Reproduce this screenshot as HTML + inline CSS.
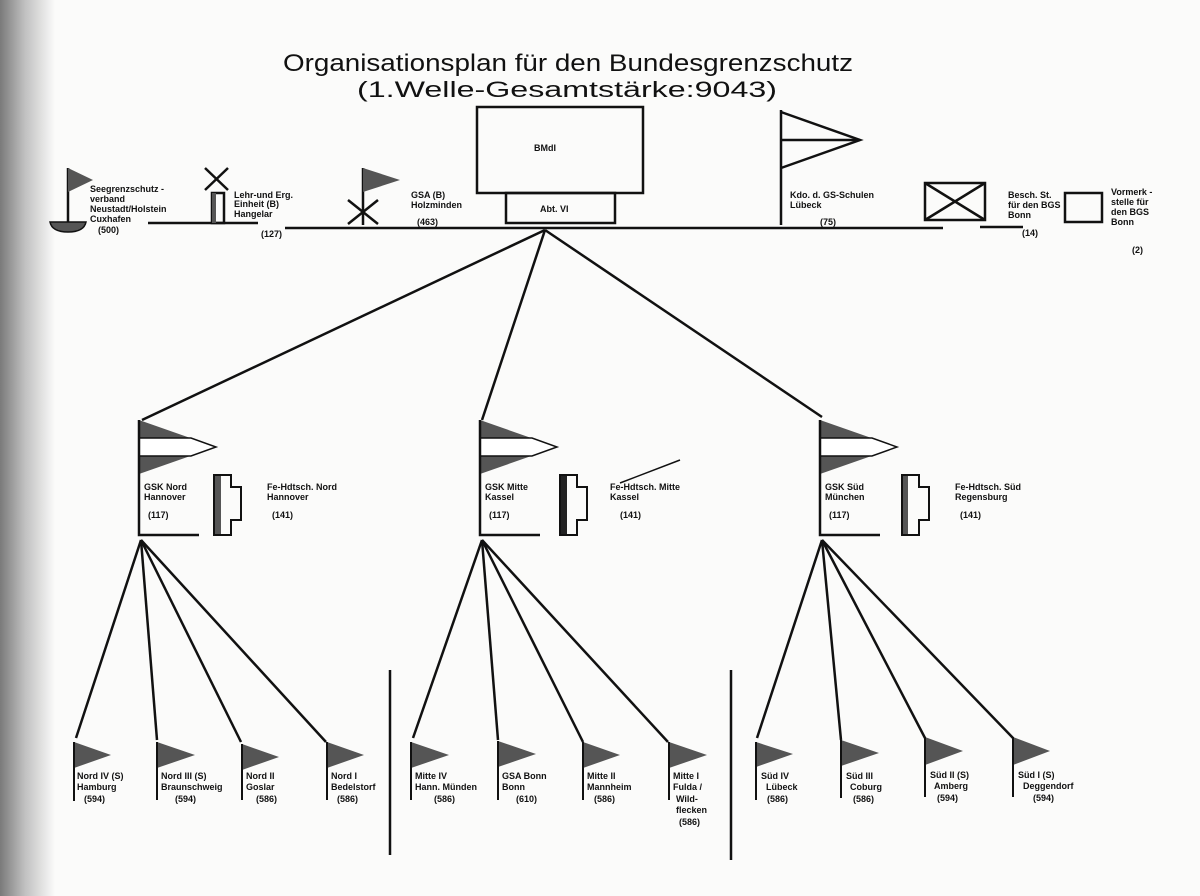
<!DOCTYPE html>
<html><head><meta charset="utf-8"><style>
html,body{margin:0;padding:0;background:#fbfbfa;}
svg{display:block;}
text{font-family:"Liberation Sans Narrow","Liberation Sans",sans-serif;font-weight:bold;fill:#111;}
.s{font-size:9px;}
</style></head><body>
<svg width="1200" height="896" viewBox="0 0 1200 896" xmlns="http://www.w3.org/2000/svg">
<defs>
<linearGradient id="g" x1="0" x2="1" y1="0" y2="0">
<stop offset="0" stop-color="#7a7a7a"/><stop offset="0.45" stop-color="#c0c0c0"/><stop offset="1" stop-color="#fbfbfa"/>
</linearGradient>
</defs>
<rect x="0" y="0" width="55" height="896" fill="url(#g)"/>

<text x="283" y="71" textLength="570" lengthAdjust="spacingAndGlyphs" style="font-family:'Liberation Sans',sans-serif;font-weight:normal;font-size:24px">Organisationsplan für den Bundesgrenzschutz</text>
<text x="357" y="97" textLength="420" lengthAdjust="spacingAndGlyphs" style="font-family:'Liberation Sans',sans-serif;font-weight:normal;font-size:22px">(1.Welle-Gesamtstärke:9043)</text>

<g stroke="#111" stroke-width="2.5" fill="none">
<rect x="477" y="107" width="166" height="86"/>
<rect x="506" y="193" width="109" height="30"/>
<line x1="285" y1="228" x2="943" y2="228"/>
<line x1="148" y1="223" x2="258" y2="223"/>
<line x1="980" y1="227" x2="1023" y2="227"/>
<line x1="545" y1="230" x2="142" y2="420"/>
<line x1="545" y1="230" x2="482" y2="420"/>
<line x1="545" y1="230" x2="822" y2="417"/>
<line x1="781" y1="110" x2="781" y2="225"/>
<polyline points="781,112 860,140 781,168"/>
<line x1="781" y1="140" x2="860" y2="140"/>
<rect x="925" y="183" width="60" height="37"/>
<line x1="925" y1="183" x2="985" y2="220"/><line x1="985" y1="183" x2="925" y2="220"/>
<rect x="1065" y="193" width="37" height="29"/>
<line x1="68" y1="168" x2="68" y2="222"/>
<rect x="212" y="193" width="12" height="30"/>
<line x1="205" y1="168" x2="228" y2="190"/><line x1="228" y1="168" x2="205" y2="190"/>
<line x1="363" y1="168" x2="363" y2="225"/>
<line x1="348" y1="200" x2="378" y2="224"/><line x1="348" y1="224" x2="378" y2="200"/>
<line x1="390" y1="670" x2="390" y2="855"/>
<line x1="731" y1="670" x2="731" y2="860"/>
</g>
<rect x="212" y="193" width="4" height="30" fill="#555"/>
<polygon points="68,168 93,180 68,192" fill="#555"/>
<path d="M50,222 L86,222 Q84,232 68,232 Q52,232 50,222 Z" fill="#555" stroke="#111" stroke-width="1.5"/>
<polygon points="363,168 400,180 363,192" fill="#555"/>
<text class="s" x="90" y="192">Seegrenzschutz -</text>
<text class="s" x="90" y="202">verband</text>
<text class="s" x="90" y="212">Neustadt/Holstein</text>
<text class="s" x="90" y="222">Cuxhafen</text>
<text class="s" x="98" y="233">(500)</text>
<text class="s" x="234" y="198">Lehr-und  Erg.</text>
<text class="s" x="234" y="207">Einheit  (B)</text>
<text class="s" x="234" y="217">Hangelar</text>
<text class="s" x="261" y="237">(127)</text>
<text class="s" x="411" y="198">GSA (B)</text>
<text class="s" x="411" y="208">Holzminden</text>
<text class="s" x="417" y="225">(463)</text>
<text class="s" x="534" y="151">BMdI</text>
<text class="s" x="540" y="212">Abt. VI</text>
<text class="s" x="790" y="198">Kdo. d. GS-Schulen</text>
<text class="s" x="790" y="208">Lübeck</text>
<text class="s" x="820" y="225">(75)</text>
<text class="s" x="1008" y="198">Besch. St.</text>
<text class="s" x="1008" y="208">für den  BGS</text>
<text class="s" x="1008" y="218">Bonn</text>
<text class="s" x="1022" y="236">(14)</text>
<text class="s" x="1111" y="195">Vormerk -</text>
<text class="s" x="1111" y="205">stelle  für</text>
<text class="s" x="1111" y="215">den  BGS</text>
<text class="s" x="1111" y="225">Bonn</text>
<text class="s" x="1132" y="253">(2)</text>

<g transform="translate(139,0)">
<polygon points="0,420 77,447 0,474" fill="#555"/>
<polygon points="0,438 52,438 77,447 52,456 0,456" fill="#fff"/>
<polyline points="0,438 52,438 77,447 52,456 0,456" fill="none" stroke="#111" stroke-width="1.5"/>
<polyline points="0,420 0,535 60,535" fill="none" stroke="#111" stroke-width="2.5"/>
<rect x="75" y="475" width="7" height="60" fill="#555"/>
<path d="M75,475 H92 V487 H102 V520 H92 V535 H75 Z" fill="none" stroke="#111" stroke-width="2"/>
<text class="s" x="5" y="490">GSK Nord</text><text class="s" x="5" y="500">Hannover</text><text class="s" x="9" y="518">(117)</text>
<text class="s" x="128" y="490">Fe-Hdtsch. Nord</text><text class="s" x="128" y="500">Hannover</text><text class="s" x="133" y="518">(141)</text>
</g>
<g transform="translate(480,0)">
<polygon points="0,420 77,447 0,474" fill="#555"/>
<polygon points="0,438 52,438 77,447 52,456 0,456" fill="#fff"/>
<polyline points="0,438 52,438 77,447 52,456 0,456" fill="none" stroke="#111" stroke-width="1.5"/>
<polyline points="0,420 0,535 60,535" fill="none" stroke="#111" stroke-width="2.5"/>
<rect x="80" y="475" width="7" height="60" fill="#222"/>
<path d="M80,475 H97 V487 H107 V520 H97 V535 H80 Z" fill="none" stroke="#111" stroke-width="2"/>
<line x1="140" y1="483" x2="200" y2="460" stroke="#111" stroke-width="1.5"/>
<text class="s" x="5" y="490">GSK Mitte</text><text class="s" x="5" y="500">Kassel</text><text class="s" x="9" y="518">(117)</text>
<text class="s" x="130" y="490">Fe-Hdtsch. Mitte</text><text class="s" x="130" y="500">Kassel</text><text class="s" x="140" y="518">(141)</text>
</g>
<g transform="translate(820,0)">
<polygon points="0,420 77,447 0,474" fill="#555"/>
<polygon points="0,438 52,438 77,447 52,456 0,456" fill="#fff"/>
<polyline points="0,438 52,438 77,447 52,456 0,456" fill="none" stroke="#111" stroke-width="1.5"/>
<polyline points="0,420 0,535 60,535" fill="none" stroke="#111" stroke-width="2.5"/>
<rect x="82" y="475" width="6" height="60" fill="#555"/>
<path d="M82,475 H99 V487 H109 V520 H99 V535 H82 Z" fill="none" stroke="#111" stroke-width="2"/>
<text class="s" x="5" y="490">GSK Süd</text><text class="s" x="5" y="500">München</text><text class="s" x="9" y="518">(117)</text>
<text class="s" x="135" y="490">Fe-Hdtsch. Süd</text><text class="s" x="135" y="500">Regensburg</text><text class="s" x="140" y="518">(141)</text>
</g>

<g stroke="#111" stroke-width="2.5">
<line x1="141" y1="540" x2="76" y2="738"/><line x1="141" y1="540" x2="157" y2="740"/><line x1="141" y1="540" x2="241" y2="742"/><line x1="141" y1="540" x2="326" y2="742"/>
<line x1="482" y1="540" x2="413" y2="738"/><line x1="482" y1="540" x2="498" y2="740"/><line x1="482" y1="540" x2="583" y2="742"/><line x1="482" y1="540" x2="668" y2="742"/>
<line x1="822" y1="540" x2="757" y2="738"/><line x1="822" y1="540" x2="841" y2="740"/><line x1="822" y1="540" x2="925" y2="738"/><line x1="822" y1="540" x2="1013" y2="738"/>
</g>

<g fill="#555" stroke="#111" stroke-width="2">
<polygon points="74,742 111,755 74,768" stroke="none"/><line x1="74" y1="742" x2="74" y2="801"/>
<polygon points="157,742 195,755 157,768" stroke="none"/><line x1="157" y1="742" x2="157" y2="800"/>
<polygon points="242,744 279,757 242,770" stroke="none"/><line x1="242" y1="744" x2="242" y2="800"/>
<polygon points="327,742 364,755 327,768" stroke="none"/><line x1="327" y1="742" x2="327" y2="800"/>
<polygon points="411,742 449,755 411,768" stroke="none"/><line x1="411" y1="742" x2="411" y2="800"/>
<polygon points="498,741 536,754 498,767" stroke="none"/><line x1="498" y1="741" x2="498" y2="800"/>
<polygon points="583,742 620,755 583,768" stroke="none"/><line x1="583" y1="742" x2="583" y2="800"/>
<polygon points="669,742 707,755 669,768" stroke="none"/><line x1="669" y1="742" x2="669" y2="800"/>
<polygon points="756,742 793,754 756,767" stroke="none"/><line x1="756" y1="742" x2="756" y2="800"/>
<polygon points="841,740 879,753 841,766" stroke="none"/><line x1="841" y1="740" x2="841" y2="798"/>
<polygon points="925,737 963,751 925,765" stroke="none"/><line x1="925" y1="737" x2="925" y2="797"/>
<polygon points="1013,737 1050,751 1013,765" stroke="none"/><line x1="1013" y1="737" x2="1013" y2="797"/>
</g>
<text class="s" x="77" y="779">Nord IV (S)</text><text class="s" x="77" y="790">Hamburg</text><text class="s" x="84" y="802">(594)</text>
<text class="s" x="161" y="779">Nord III (S)</text><text class="s" x="161" y="790">Braunschweig</text><text class="s" x="175" y="802">(594)</text>
<text class="s" x="246" y="779">Nord II</text><text class="s" x="246" y="790">Goslar</text><text class="s" x="256" y="802">(586)</text>
<text class="s" x="331" y="779">Nord I</text><text class="s" x="331" y="790">Bedelstorf</text><text class="s" x="337" y="802">(586)</text>
<text class="s" x="415" y="779">Mitte IV</text><text class="s" x="415" y="790">Hann. Münden</text><text class="s" x="434" y="802">(586)</text>
<text class="s" x="502" y="779">GSA  Bonn</text><text class="s" x="502" y="790">Bonn</text><text class="s" x="516" y="802">(610)</text>
<text class="s" x="587" y="779">Mitte II</text><text class="s" x="587" y="790">Mannheim</text><text class="s" x="594" y="802">(586)</text>
<text class="s" x="673" y="779">Mitte I</text><text class="s" x="673" y="790">Fulda /</text><text class="s" x="676" y="802">Wild-</text><text class="s" x="676" y="813">flecken</text><text class="s" x="679" y="825">(586)</text>
<text class="s" x="761" y="779">Süd IV</text><text class="s" x="766" y="790">Lübeck</text><text class="s" x="767" y="802">(586)</text>
<text class="s" x="846" y="779">Süd III</text><text class="s" x="850" y="790">Coburg</text><text class="s" x="853" y="802">(586)</text>
<text class="s" x="930" y="778">Süd II  (S)</text><text class="s" x="934" y="789">Amberg</text><text class="s" x="937" y="801">(594)</text>
<text class="s" x="1018" y="778">Süd I  (S)</text><text class="s" x="1023" y="789">Deggendorf</text><text class="s" x="1033" y="801">(594)</text>
</svg>
</body></html>
